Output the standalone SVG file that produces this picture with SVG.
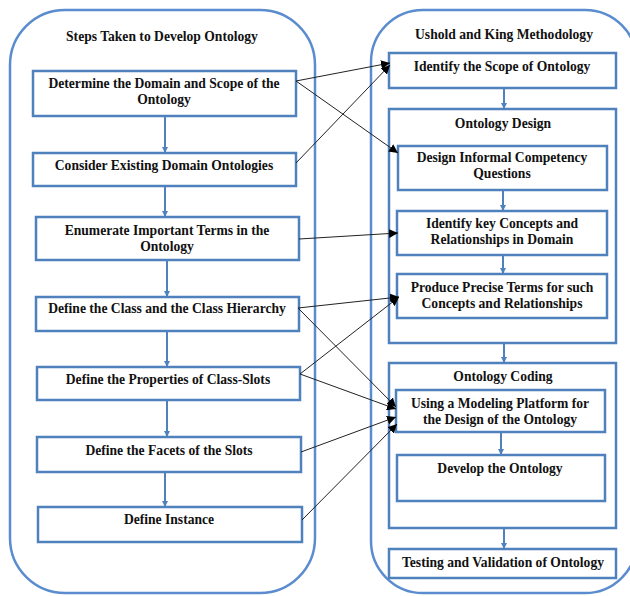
<svg xmlns="http://www.w3.org/2000/svg" width="630" height="596" viewBox="0 0 630 596">
<defs>
<marker id="blueArrow" viewBox="0 0 10 10" refX="10" refY="5" markerWidth="6" markerHeight="6" orient="auto" markerUnits="userSpaceOnUse">
<path d="M0,0 L10,5 L0,10 z" fill="#4f81bd"/>
</marker>
<marker id="blackArrow" viewBox="0 0 10 10" refX="10" refY="5" markerWidth="9" markerHeight="9" orient="auto" markerUnits="userSpaceOnUse">
<path d="M0,0 L10,5 L0,10 z" fill="#000"/>
</marker>
<style>
.outer{fill:#fff;stroke:#5a8ccf;stroke-width:2.5}
.box{fill:#fff;stroke:#4f81bd;stroke-width:2.5}
.t{font-family:"Liberation Serif","Times New Roman",serif;font-weight:bold;font-size:13.6px;fill:#111;text-anchor:middle}
.bl{stroke:#4f81bd;stroke-width:2;fill:none;marker-end:url(#blueArrow)}
.bk{stroke:#222;stroke-width:1;fill:none;marker-end:url(#blackArrow)}
</style>
</defs>
<rect width="630" height="596" fill="#fff"/>

<g id="left-group">
<rect class="outer" x="10" y="10" width="305" height="583" rx="55"/>
<text class="t" x="162" y="41">Steps Taken to Develop Ontology</text>
</g>
<g id="right-group">
<rect class="outer" x="371" y="10" width="266" height="583" rx="52"/>
<text class="t" x="504" y="39">Ushold and King Methodology</text>
</g>

<g id="n-determine">
<rect class="box" x="33" y="71" width="263" height="45"/>
<text class="t" x="164" y="88">Determine the Domain  and Scope of the</text>
<text class="t" x="164" y="104">Ontology</text>
</g>
<g id="n-consider">
<rect class="box" x="33" y="153" width="263" height="33"/>
<text class="t" x="164" y="170">Consider Existing Domain Ontologies</text>
</g>
<g id="n-enumerate">
<rect class="box" x="36" y="217" width="263" height="43"/>
<text class="t" x="167" y="235">Enumerate Important  Terms in the</text>
<text class="t" x="167" y="251">Ontology</text>
</g>
<g id="n-class">
<rect class="box" x="36" y="297" width="263" height="34"/>
<text class="t" x="167" y="313">Define the Class and the Class Hierarchy</text>
</g>
<g id="n-properties">
<rect class="box" x="37" y="367" width="263" height="33"/>
<text class="t" x="168" y="384">Define the Properties of Class-Slots</text>
</g>
<g id="n-facets">
<rect class="box" x="37" y="437" width="264" height="35"/>
<text class="t" x="169" y="455">Define the Facets of the Slots</text>
</g>
<g id="n-instance">
<rect class="box" x="38" y="507" width="264" height="35"/>
<text class="t" x="169" y="524">Define Instance</text>
</g>

<g id="n-scope">
<rect class="box" x="389" y="53" width="227" height="35"/>
<text class="t" x="502" y="71">Identify the Scope of Ontology</text>
</g>
<g id="n-design">
<rect class="box" x="389" y="109" width="227" height="234"/>
<text class="t" x="503" y="128">Ontology Design</text>
</g>
<g id="n-competency">
<rect class="box" x="398" y="146" width="209" height="44"/>
<text class="t" x="502" y="162">Design Informal  Competency</text>
<text class="t" x="502" y="178">Questions</text>
</g>
<g id="n-concepts">
<rect class="box" x="397" y="211" width="210" height="44"/>
<text class="t" x="502" y="228">Identify key Concepts and</text>
<text class="t" x="502" y="244">Relationships in Domain</text>
</g>
<g id="n-precise">
<rect class="box" x="397" y="274" width="210" height="44"/>
<text class="t" x="502" y="292">Produce Precise Terms for such</text>
<text class="t" x="502" y="308">Concepts and Relationships</text>
</g>
<g id="n-coding">
<rect class="box" x="389" y="363" width="227" height="165"/>
<text class="t" x="503" y="381">Ontology Coding</text>
</g>
<g id="n-platform">
<rect class="box" x="396" y="390" width="209" height="42"/>
<text class="t" x="500" y="408">Using a Modeling Platform  for</text>
<text class="t" x="500" y="424">the Design of the Ontology</text>
</g>
<g id="n-develop">
<rect class="box" x="397" y="455" width="208" height="46"/>
<text class="t" x="500" y="473">Develop the Ontology</text>
</g>
<g id="n-testing">
<rect class="box" x="389" y="549" width="227" height="29"/>
<text class="t" x="503" y="567">Testing and Validation  of Ontology</text>
</g>

<g id="connectors">
<line class="bl" x1="165" y1="116" x2="165" y2="153"/>
<line class="bl" x1="165" y1="186" x2="165" y2="217"/>
<line class="bl" x1="167" y1="260" x2="167" y2="297"/>
<line class="bl" x1="167" y1="331" x2="167" y2="367"/>
<line class="bl" x1="167" y1="400" x2="167" y2="437"/>
<line class="bl" x1="165" y1="472" x2="165" y2="507"/>
<line class="bl" x1="504" y1="88" x2="504" y2="109"/>
<line class="bl" x1="503" y1="190" x2="503" y2="211"/>
<line class="bl" x1="503" y1="255" x2="503" y2="274"/>
<line class="bl" x1="504" y1="343" x2="504" y2="363"/>
<line class="bl" x1="501" y1="432" x2="501" y2="455"/>
<line class="bl" x1="504" y1="528" x2="504" y2="549"/>

<line class="bk" x1="296" y1="81" x2="390" y2="63"/>
<line class="bk" x1="296" y1="81" x2="398" y2="153"/>
<line class="bk" x1="296" y1="163" x2="390" y2="65"/>
<line class="bk" x1="299" y1="239" x2="398" y2="233"/>
<line class="bk" x1="298" y1="308" x2="399" y2="297"/>
<line class="bk" x1="298" y1="308" x2="396" y2="407"/>
<line class="bk" x1="300" y1="374" x2="399" y2="297"/>
<line class="bk" x1="300" y1="374" x2="396" y2="409"/>
<line class="bk" x1="301" y1="452" x2="396" y2="417"/>
<line class="bk" x1="302" y1="520" x2="397" y2="424"/>
</g>
</svg>
